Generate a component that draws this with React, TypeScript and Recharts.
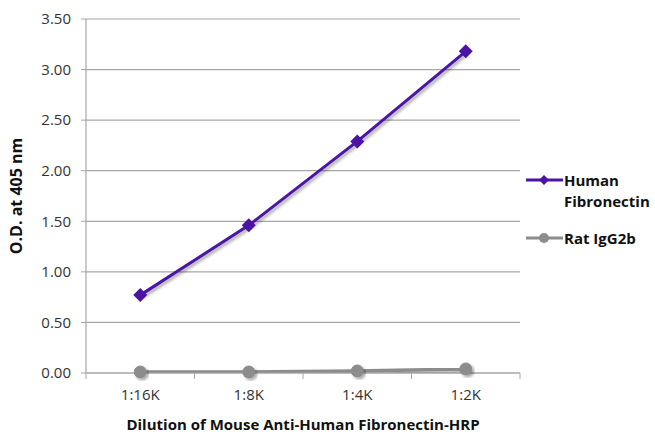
import { LineChart, Line, XAxis, YAxis, CartesianGrid } from "recharts";

const dilutions = ["1:16K", "1:8K", "1:4K", "1:2K"];
const humanFibronectin = [0.77, 1.46, 2.29, 3.18];
const ratIgG2b = [0.01, 0.01, 0.02, 0.04];
const yTicks = [0, 0.5, 1, 1.5, 2, 2.5, 3, 3.5];

const data = dilutions.map((d, i) => ({
  dilution: d,
  human: humanFibronectin[i],
  rat: ratIgG2b[i],
}));

const W = 655;
const H = 436;
const LEFT = 86;
const RIGHT = 135;
const BAND = (W - LEFT - RIGHT) / dilutions.length;
const FONT = "'Open Sans', sans-serif";
const AXIS = "#a6a6a6";
const PURPLE = "#4b14a6";
const GRAY = "#8c8c8c";

const XTick = (props: any) => {
  const { x, y, payload, index } = props;
  const half = BAND / 2;
  return (
    <g>
      <line x1={x - half} y1={y} x2={x - half} y2={y + 6} stroke={AXIS} />
      {index === dilutions.length - 1 && (
        <line x1={x + half} y1={y} x2={x + half} y2={y + 6} stroke={AXIS} />
      )}
      <text x={x} y={y + 27} textAnchor="middle" fontSize={15} fill="#333" fontFamily={FONT}>
        {payload.value}
      </text>
    </g>
  );
};

const legendItems = [
  { label: ["Human", "Fibronectin"], color: PURPLE, shape: "diamond" },
  { label: ["Rat IgG2b"], color: GRAY, shape: "circle" },
];

const LegendBox = () => (
  <svg width={130} height={90} style={{ position: "absolute", left: 526, top: 168, overflow: "visible" }}>
    {legendItems.map((it, i) => {
      const cy = i === 0 ? 12 : 70;
      return (
        <g key={i}>
          <line x1={0} y1={cy} x2={37} y2={cy} stroke={it.color} strokeWidth={3} />
          {it.shape === "diamond" ? (
            <polygon points={`18,${cy - 5} 23,${cy} 18,${cy + 5} 13,${cy}`} fill={it.color} />
          ) : (
            <circle cx={18} cy={cy} r={5} fill={it.color} />
          )}
          {it.label.map((t, j) => (
            <text key={j} x={38} y={cy + 6 + j * 21} fontSize={15} fontWeight="bold" fill="#111" fontFamily={FONT}>
              {t}
            </text>
          ))}
        </g>
      );
    })}
  </svg>
);

const Diamond = (props: any) => {
  const { cx, cy } = props;
  if (cx == null || cy == null) return null;
  return <polygon points={`${cx},${cy - 7} ${cx + 7},${cy} ${cx},${cy + 7} ${cx - 7},${cy}`} fill={PURPLE} />;
};

export default function App() {
  return (
    <div style={{ position: "absolute", left: 0, top: 0, width: W, height: H, background: "#fff" }}>
      <LineChart
        width={W}
        height={H}
        data={data}
        margin={{ top: 19, right: RIGHT, bottom: 0, left: 0 }}
        style={{ fontFamily: FONT }}
      >
        <defs>
          <filter id="shadow" x="-20%" y="-20%" width="140%" height="140%">
            <feDropShadow dx="2" dy="2" stdDeviation="1.5" floodColor="#000" floodOpacity="0.35" />
          </filter>
        </defs>
        <CartesianGrid horizontal vertical={false} stroke={AXIS} strokeWidth={1.2} />
        <XAxis
          dataKey="dilution"
          height={63}
          padding={{ left: BAND / 2, right: BAND / 2 }}
          axisLine={{ stroke: AXIS, strokeWidth: 1.2 }}
          tickLine={false}
          tickSize={0}
          tickMargin={0}
          tick={<XTick />}
          interval={0}
          label={{
            value: "Dilution of Mouse Anti-Human Fibronectin-HRP",
            position: "insideBottom",
            offset: 6,
            style: { fontSize: 15, fontWeight: "bold", fill: "#111", fontFamily: FONT },
          }}
        />
        <YAxis
          width={LEFT}
          domain={[0, 3.5]}
          ticks={yTicks}
          interval={0}
          tickFormatter={(v: number) => v.toFixed(2)}
          axisLine={{ stroke: AXIS, strokeWidth: 1.2 }}
          tickLine={{ stroke: AXIS }}
          tickSize={5}
          tickMargin={10}
          tick={{ fontSize: 15, fill: "#333", fontFamily: FONT }}
          label={{
            value: "O.D. at 405 nm",
            angle: -90,
            position: "insideLeft",
            offset: 16,
            style: { fontSize: 16, fontWeight: "bold", fill: "#111", fontFamily: FONT, textAnchor: "middle" },
          }}
        />
        <Line
          dataKey="rat"
          stroke={GRAY}
          strokeWidth={3.5}
          dot={{ r: 6, fill: GRAY, stroke: GRAY, strokeWidth: 1 }}
          isAnimationActive={false}
          style={{ filter: "url(#shadow)" }}
        />
        <Line
          dataKey="human"
          stroke={PURPLE}
          strokeWidth={3}
          dot={<Diamond />}
          isAnimationActive={false}
          style={{ filter: "url(#shadow)" }}
        />
      </LineChart>
      <LegendBox />
    </div>
  );
}
